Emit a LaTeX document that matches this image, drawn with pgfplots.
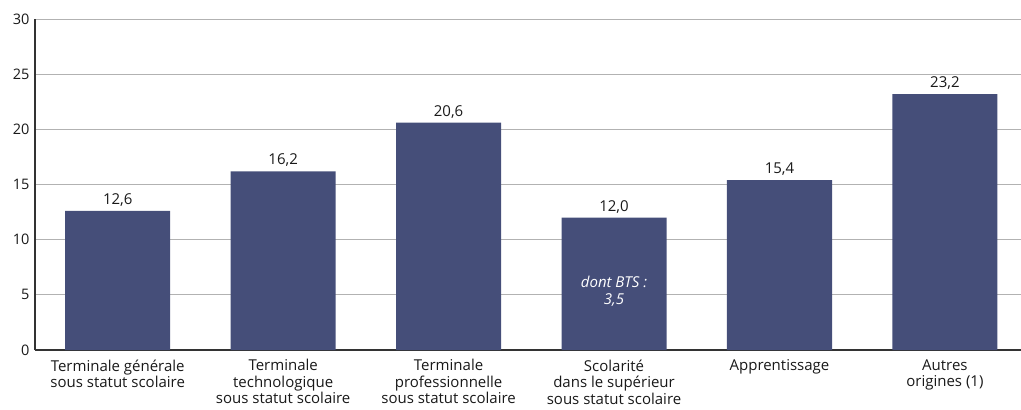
\documentclass[border=0pt]{standalone}
\usepackage{fontspec}
\setmainfont{Open Sans}
\usepackage{pgfplots}
\pgfplotsset{compat=1.18}
\definecolor{barblue}{RGB}{69,78,121}
\begin{document}
\begin{tikzpicture}
\begin{axis}[
    scale only axis,
    width=986pt, height=331pt,
    xmin=-0.5, xmax=5.46,
    ymin=0, ymax=30,
    ytick={0,5,...,30},
    xtick=data,
    xticklabels={{Terminale générale\\sous statut scolaire},
                 {Terminale\\technologique\\sous statut scolaire},
                 {Terminale\\professionnelle\\sous statut scolaire},
                 {Scolarité\\dans le supérieur\\sous statut scolaire},
                 {Apprentissage},
                 {Autres\\origines (1)}},
    major tick length=0pt,
    axis x line*=bottom, axis y line*=left,
    axis line style={-, black!80, line width=1.1pt},
    ymajorgrids, grid style={black!30, line width=0.9pt},
    tick label style={text=black!90},
    xticklabel style={align=center, anchor=north, yshift=-6pt,
        font=\fontsize{15}{16.5}\selectfont},
    yticklabel style={xshift=-2pt, font=\fontsize{14.5}{16}\selectfont},
    /pgf/number format/assume math mode=true,
    nodes near coords,
    nodes near coords style={font=\fontsize{15}{16}\selectfont, text=black!90,
        yshift=1pt,
        /pgf/number format/use comma,
        /pgf/number format/fixed,
        /pgf/number format/fixed zerofill,
        /pgf/number format/precision=1},
]
\addplot[ybar, bar width=0.635, fill=barblue, draw=none] coordinates {
    (0,12.6) (1,16.2) (2,20.6) (3,12.0) (4,15.4) (5,23.2)
};
\node[align=center, text=white, font=\fontsize{15}{17}\selectfont\itshape]
    at (axis cs:3,5.3) {dont BTS :\\3,5};
\end{axis}
\pgfresetboundingbox
\path[use as bounding box] ([xshift=-35pt,yshift=-59pt]current axis.south west)
    rectangle ([yshift=19pt]current axis.north east);
\end{tikzpicture}
\end{document}
